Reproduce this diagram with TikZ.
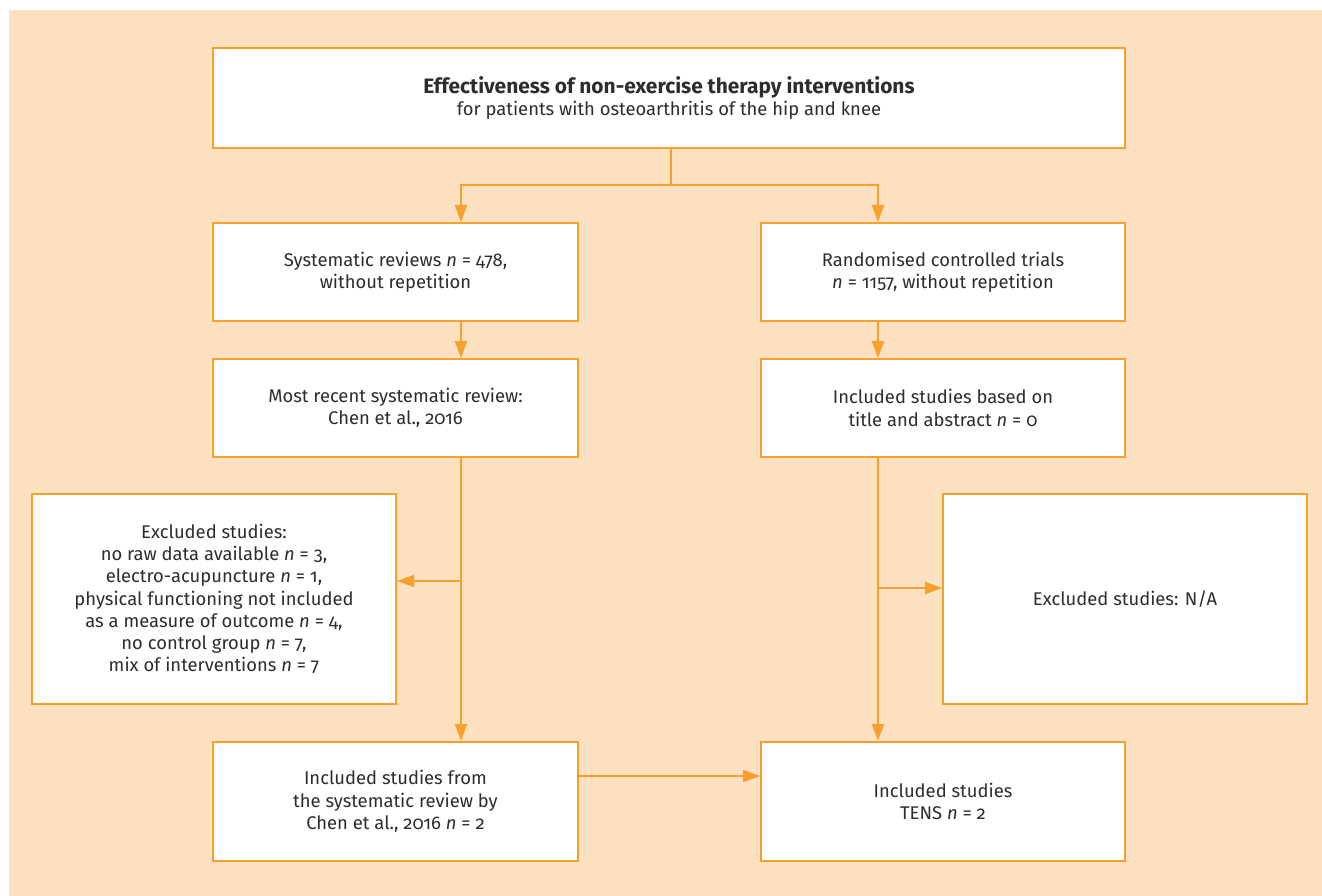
\documentclass[tikz,border=0pt]{standalone}
\usepackage{fontspec}
\setmainfont{Fira Sans}[Numbers=OldStyle]
\usetikzlibrary{arrows.meta}
\definecolor{peach}{RGB}{253,225,193}
\definecolor{orng}{RGB}{247,160,45}
\definecolor{txt}{RGB}{45,45,45}
\begin{document}
\begin{tikzpicture}[x=1pt,y=-1pt,
  box/.style={draw=orng, line width=2pt, fill=white, text=txt, align=center,
    inner sep=0pt, font=\fontsize{18.4}{22.3}\selectfont},
  arr/.style={draw=orng, line width=2pt, -{Triangle[length=17pt,width=12pt]}},
  ln/.style={draw=orng, line width=2pt}]
\useasboundingbox (0,0) rectangle (1322,896);
\fill[peach] (9,10) rectangle (1322,896);
\newcommand{\nn}{\textit{n}}
\node[box, minimum width=912pt, minimum height=100pt] (top) at (669,98)
  {{\bfseries\fontsize{20.9}{23}\selectfont Effectiveness of non-exercise therapy interventions}\\for patients with osteoarthritis of the hip and knee};
\node[box, minimum width=365pt, minimum height=98pt] (sr) at (395.5,272)
  {Systematic reviews \nn{} = 478,\\without repetition};
\node[box, minimum width=364pt, minimum height=98pt] (rct) at (943,272)
  {Randomised controlled trials\\\nn{} = 1157, without repetition};
\node[box, minimum width=365pt, minimum height=98pt] (mr) at (395.5,408)
  {Most recent systematic review:\\Chen et al., 2016};
\node[box, minimum width=364pt, minimum height=98pt] (inc) at (943,408)
  {Included studies based on\\title and abstract \nn{} = 0};
\node[box, minimum width=364pt, minimum height=210pt] (exl) at (214,599)
  {Excluded studies:\\no raw data available \nn{} = 3,\\electro-acupuncture \nn{} = 1,\\physical functioning not included\\as a measure of outcome \nn{} = 4,\\no control group \nn{} = 7,\\mix of interventions \nn{} = 7};
\node[box, minimum width=364pt, minimum height=210pt] (exr) at (1125,599)
  {Excluded studies: N/A};
\node[box, minimum width=365pt, minimum height=119pt] (isr) at (395.5,801.5)
  {Included studies from\\the systematic review by\\Chen et al., 2016 \nn{} = 2};
\node[box, minimum width=364pt, minimum height=119pt] (tens) at (943,801.5)
  {Included studies\\TENS \nn{} = 2};
\coordinate (j1) at (671,185);
\coordinate (cl) at (461,0);
\coordinate (cr) at (878,0);
\coordinate (bl) at (461,581);
\coordinate (br) at (878,588);
\coordinate (bb) at (578,776);
\draw[ln] (top.south -| j1) -- (j1);
\draw[arr] (j1) -| (sr.north -| cl);
\draw[arr] (j1) -| (rct.north -| cr);
\draw[arr] (sr.south -| cl) -- (mr.north -| cl);
\draw[arr] (rct.south -| cr) -- (inc.north -| cr);
\draw[arr] (mr.south -| cl) -- (isr.north -| cl);
\draw[arr] (inc.south -| cr) -- (tens.north -| cr);
\draw[arr] (bl) -- (bl -| exl.east);
\draw[arr] (br) -- (br -| exr.west);
\draw[arr] (bb -| isr.east) -- (bb -| tens.west);
\end{tikzpicture}
\end{document}
